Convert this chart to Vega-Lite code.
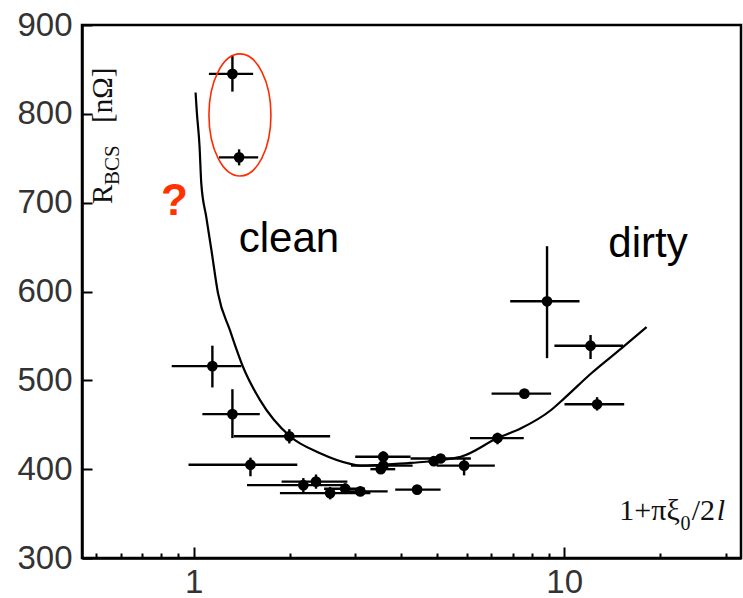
{
  "$schema": "https://vega.github.io/schema/vega-lite/v6.json",
  "width": 659,
  "height": 533,
  "autosize": "none",
  "padding": {"left": 82, "top": 25, "right": 2, "bottom": 40},
  "background": "white",
  "config": {
    "view": {"stroke": "black", "strokeWidth": 2.5},
    "axis": {
      "grid": false,
      "domainColor": "black",
      "domainWidth": 2.5,
      "tickColor": "black",
      "tickWidth": 2,
      "labelFont": "Liberation Sans",
      "labelFontSize": 33,
      "labelColor": "#333333",
      "labelFlush": false,
      "labelOverlap": false,
      "title": null
    }
  },
  "datasets": {
    "points": [
      {"x": 1.273, "y": 845, "xlo": 1.10, "xhi": 1.448, "ylo": 825, "yhi": 866},
      {"x": 1.327, "y": 751, "xlo": 1.171, "xhi": 1.494, "ylo": 742, "yhi": 760},
      {"x": 1.124, "y": 516, "xlo": 0.873, "xhi": 1.347, "ylo": 492, "yhi": 539},
      {"x": 1.273, "y": 462, "xlo": 1.056, "xhi": 1.509, "ylo": 435, "yhi": 490},
      {"x": 1.813, "y": 437, "xlo": 1.284, "xhi": 2.336, "ylo": 429, "yhi": 445},
      {"x": 1.424, "y": 405, "xlo": 0.969, "xhi": 1.905, "ylo": 392, "yhi": 413},
      {"x": 1.978, "y": 382, "xlo": 1.394, "xhi": 2.567, "ylo": 372, "yhi": 390},
      {"x": 2.14, "y": 386, "xlo": 1.728, "xhi": 2.6, "ylo": 378, "yhi": 394},
      {"x": 2.336, "y": 373, "xlo": 1.71, "xhi": 3.0, "ylo": 366, "yhi": 380},
      {"x": 2.566, "y": 378, "xlo": 2.25, "xhi": 2.9, "ylo": 372, "yhi": 384},
      {"x": 2.818, "y": 375, "xlo": 2.59, "xhi": 3.34, "ylo": 370, "yhi": 380},
      {"x": 3.25, "y": 414, "xlo": 2.73, "xhi": 3.85, "ylo": 406, "yhi": 420},
      {"x": 3.25, "y": 404, "xlo": 2.66, "xhi": 3.9, "ylo": 396, "yhi": 412},
      {"x": 3.2, "y": 400, "xlo": 3.0, "xhi": 3.5, "ylo": 396, "yhi": 404},
      {"x": 4.01, "y": 377, "xlo": 3.5, "xhi": 4.64, "ylo": 373, "yhi": 381},
      {"x": 4.64, "y": 412, "xlo": 3.85, "xhi": 5.6, "ylo": 407, "yhi": 417},
      {"x": 4.45, "y": 409, "xlo": 4.3, "xhi": 4.6, "ylo": 405, "yhi": 413},
      {"x": 5.37, "y": 404, "xlo": 4.53, "xhi": 6.5, "ylo": 393, "yhi": 412},
      {"x": 6.61, "y": 435, "xlo": 5.57, "xhi": 7.78, "ylo": 428, "yhi": 441},
      {"x": 7.81, "y": 485, "xlo": 6.37, "xhi": 9.22, "ylo": 481, "yhi": 489},
      {"x": 8.99, "y": 589, "xlo": 7.15, "xhi": 11.0, "ylo": 525, "yhi": 651},
      {"x": 11.78, "y": 539, "xlo": 9.41, "xhi": 14.42, "ylo": 524, "yhi": 551},
      {"x": 12.27, "y": 473, "xlo": 10.02, "xhi": 14.52, "ylo": 466, "yhi": 481}
    ],
    "curve": [
      {"x": 1.0125, "y": 824}, {"x": 1.02, "y": 803}, {"x": 1.038, "y": 763},
      {"x": 1.049, "y": 722}, {"x": 1.082, "y": 684}, {"x": 1.117, "y": 647},
      {"x": 1.164, "y": 598}, {"x": 1.252, "y": 557}, {"x": 1.36, "y": 515},
      {"x": 1.51, "y": 478}, {"x": 1.82, "y": 437}, {"x": 2.195, "y": 418},
      {"x": 2.647, "y": 406}, {"x": 2.818, "y": 404}, {"x": 3.2, "y": 405},
      {"x": 3.85, "y": 407}, {"x": 5.26, "y": 414}, {"x": 6.61, "y": 435},
      {"x": 7.65, "y": 446}, {"x": 9.22, "y": 466.6}, {"x": 10.02, "y": 480},
      {"x": 11.84, "y": 508}, {"x": 14.27, "y": 536}, {"x": 16.68, "y": 560}
    ]
  },
  "layer": [
    {
      "data": {"name": "curve"},
      "mark": {"type": "line", "color": "black", "strokeWidth": 2.2, "interpolate": "monotone"},
      "encoding": {
        "x": {
          "field": "x", "type": "quantitative",
          "scale": {"type": "log", "domain": [0.5, 30], "nice": false},
          "axis": {
            "values": [0.5455, 0.6364, 0.7273, 0.8182, 0.9091, 1, 1.818, 2.727, 3.636, 4.545, 5.455, 6.364, 7.273, 8.182, 9.091, 10, 18.18, 27.27],
            "labelExpr": "datum.value == 1 ? '1' : (datum.value == 10 ? '10' : '')",
            "tickSize": {"condition": {"test": "datum.value == 1 || datum.value == 10", "value": -11}, "value": -5},
            "labelPadding": 19
          }
        },
        "y": {
          "field": "y", "type": "quantitative",
          "scale": {"domain": [300, 900], "nice": false, "zero": false},
          "axis": {
            "values": [300, 400, 500, 600, 700, 800, 900],
            "tickSize": -10,
            "labelPadding": 20
          }
        }
      }
    },
    {
      "data": {"name": "points"},
      "mark": {"type": "rule", "color": "black", "strokeWidth": 2.4},
      "encoding": {
        "x": {"field": "xlo", "type": "quantitative"},
        "x2": {"field": "xhi"},
        "y": {"field": "y", "type": "quantitative"}
      }
    },
    {
      "data": {"name": "points"},
      "mark": {"type": "rule", "color": "black", "strokeWidth": 2.4},
      "encoding": {
        "x": {"field": "x", "type": "quantitative"},
        "y": {"field": "ylo", "type": "quantitative"},
        "y2": {"field": "yhi"}
      }
    },
    {
      "data": {"name": "points"},
      "mark": {"type": "point", "filled": true, "color": "black", "size": 115, "opacity": 1},
      "encoding": {
        "x": {"field": "x", "type": "quantitative"},
        "y": {"field": "y", "type": "quantitative"}
      }
    },
    {
      "data": {"values": [{"x": 1.334, "y": 798.7}]},
      "mark": {"type": "point", "filled": false, "stroke": "#ff2a00", "strokeWidth": 1.6, "opacity": 1,
               "shape": "M-1,0A1,1.97,0,1,1,1,0A1,1.97,0,1,1,-1,0Z", "size": 3844},
      "encoding": {
        "x": {"field": "x", "type": "quantitative"},
        "y": {"field": "y", "type": "quantitative"}
      }
    },
    {
      "data": {"values": [{"x": 1.324, "y": 644.5, "t": "clean"}, {"x": 13.16, "y": 638.8, "t": "dirty"}]},
      "mark": {"type": "text", "font": "Liberation Sans", "fontSize": 42, "align": "left", "baseline": "alphabetic", "color": "black"},
      "encoding": {
        "x": {"field": "x", "type": "quantitative"},
        "y": {"field": "y", "type": "quantitative"},
        "text": {"field": "t"}
      }
    },
    {
      "data": {"values": [{"x": 0.888, "y": 686, "t": "?"}]},
      "mark": {"type": "text", "font": "Liberation Sans", "fontSize": 44, "fontWeight": "bold", "align": "center", "baseline": "alphabetic", "color": "#ff3300"},
      "encoding": {
        "x": {"field": "x", "type": "quantitative"},
        "y": {"field": "y", "type": "quantitative"},
        "text": {"field": "t"}
      }
    },
    {
      "data": {"values": [{"x": 0.603, "y": 698.5, "t": "R"}, {"x": 0.603, "y": 789.7, "t": "[nΩ]"}]},
      "mark": {"type": "text", "font": "Liberation Serif", "fontSize": 29, "angle": 270, "align": "left", "baseline": "alphabetic", "color": "#111111"},
      "encoding": {
        "x": {"field": "x", "type": "quantitative"},
        "y": {"field": "y", "type": "quantitative"},
        "text": {"field": "t"}
      }
    },
    {
      "data": {"values": [{"x": 0.630, "y": 720, "t": "BCS"}]},
      "mark": {"type": "text", "font": "Liberation Serif", "fontSize": 21, "angle": 270, "align": "left", "baseline": "alphabetic", "color": "#111111"},
      "encoding": {
        "x": {"field": "x", "type": "quantitative"},
        "y": {"field": "y", "type": "quantitative"},
        "text": {"field": "t"}
      }
    },
    {
      "data": {"values": [{"x": 14.09, "y": 342.8, "t": "1+πξ"}, {"x": 22.09, "y": 342.8, "t": "/2"}]},
      "mark": {"type": "text", "font": "Liberation Serif", "fontSize": 30, "align": "left", "baseline": "alphabetic", "color": "#111111"},
      "encoding": {
        "x": {"field": "x", "type": "quantitative"},
        "y": {"field": "y", "type": "quantitative"},
        "text": {"field": "t"}
      }
    },
    {
      "data": {"values": [{"x": 20.6, "y": 331.5, "t": "0"}]},
      "mark": {"type": "text", "font": "Liberation Serif", "fontSize": 20, "align": "left", "baseline": "alphabetic", "color": "#111111"},
      "encoding": {
        "x": {"field": "x", "type": "quantitative"},
        "y": {"field": "y", "type": "quantitative"},
        "text": {"field": "t"}
      }
    },
    {
      "data": {"values": [{"x": 25.8, "y": 342.8, "t": "l"}]},
      "mark": {"type": "text", "font": "Liberation Serif", "fontSize": 30, "fontStyle": "italic", "align": "left", "baseline": "alphabetic", "color": "#111111"},
      "encoding": {
        "x": {"field": "x", "type": "quantitative"},
        "y": {"field": "y", "type": "quantitative"},
        "text": {"field": "t"}
      }
    }
  ]
}
